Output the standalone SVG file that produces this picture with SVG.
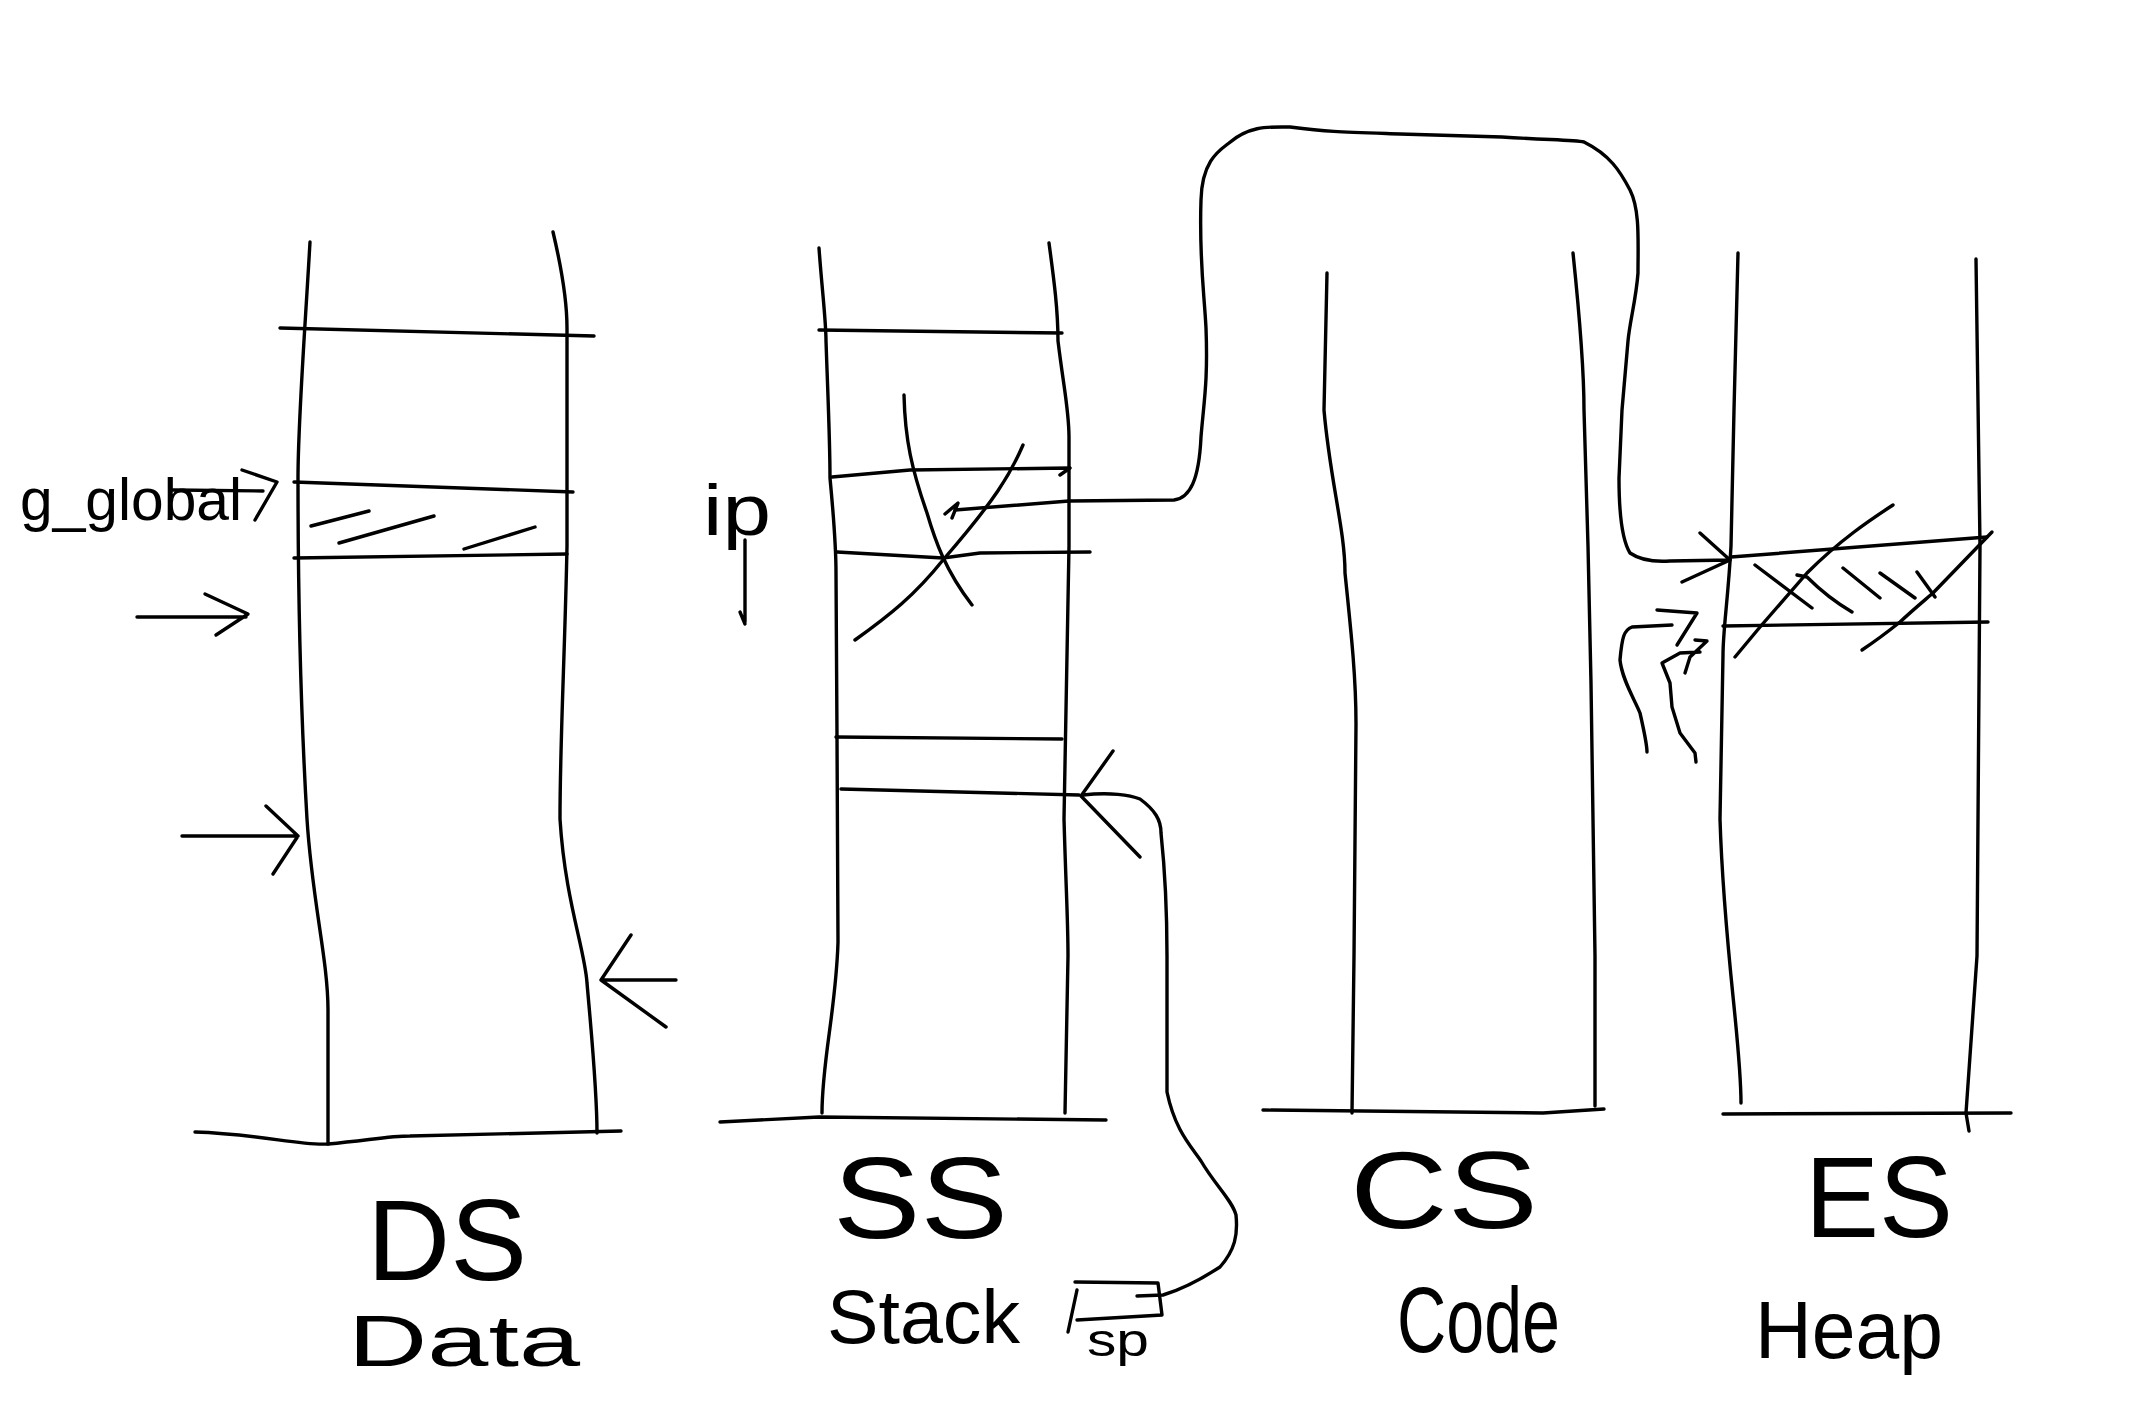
<svg xmlns="http://www.w3.org/2000/svg" width="2141" height="1402" viewBox="0 0 2141 1402">
<style>
.s{fill:none;stroke:#000;stroke-width:3.4;stroke-linecap:round;stroke-linejoin:round}
.t{font-family:"Liberation Sans","DejaVu Sans",sans-serif;fill:#000}
</style>
<rect width="2141" height="1402" fill="#fff"/>
<g id="ds">
<path class="s" d="M310,242 C305,330 298,420 298,478 C298,600 300,700 307,819 C312,900 328,960 328,1010 L328,1144"/>
<path class="s" d="M553,232 C562,270 567,300 567,328 L567,546 C565,650 560,740 560,819 C565,900 585,950 587,983 C592,1040 597,1090 597,1133"/>
<path class="s" d="M195,1132 C260,1134 300,1146 328,1144 C370,1140 390,1136 410,1136 L621,1131"/>
<path class="s" d="M280,328 L594,336"/>
<path class="s" d="M294,482 L573,492"/>
<path class="s" d="M294,558 L567,554"/>
<path class="s" d="M311,526 L369,511 M339,543 L434,516 M464,549 L535,527"/>
<text class="t" x="20" y="520" font-size="60" textLength="222" lengthAdjust="spacingAndGlyphs">g_global</text>
<text class="t" x="367" y="1280" font-size="115" textLength="160" lengthAdjust="spacingAndGlyphs">DS</text>
<text class="t" x="348" y="1366" font-size="72" textLength="232" lengthAdjust="spacingAndGlyphs">Data</text>
</g>
<g id="ss">
<path class="s" d="M819,248 C822,290 826,320 826,341 C828,400 830,440 830,478 C834,520 836,550 836,573 L837,737 L838,942 C836,1010 822,1060 822,1113"/>
<path class="s" d="M1049,243 C1054,280 1058,310 1058,341 C1064,390 1069,410 1069,437 L1069,546 L1064,819 C1066,890 1068,920 1068,956 L1065,1113"/>
<path class="s" d="M720,1122 L819,1117 L1106,1120"/>
<path class="s" d="M819,330 L1062,333"/>
<path class="s" d="M832,477 L910,470 L1070,468 M1060,475 L1070,468"/>
<path class="s" d="M837,552 L943,558 L980,553 L1090,552"/>
<path class="s" d="M836,737 L1062,739"/>
<path class="s" d="M841,789 L1079,795"/>
<path class="s" d="M904,395 C905,440 912,470 927,513 C935,540 945,570 972,605"/>
<path class="s" d="M1023,445 C1010,475 995,500 943,560 C915,595 890,615 855,640"/>
<text class="t" x="703" y="535" font-size="72" textLength="68" lengthAdjust="spacingAndGlyphs">ip</text>
<path class="s" d="M745,540 L745,622 M740,612 L745,624"/>
<text class="t" x="833" y="1238" font-size="115" textLength="175" lengthAdjust="spacingAndGlyphs">SS</text>
<text class="t" x="827" y="1343" font-size="76" textLength="193" lengthAdjust="spacingAndGlyphs">Stack</text>
<path class="s" d="M1075,1282 L1158,1283 L1162,1315 L1077,1320 M1077,1290 L1068,1332"/>
<text class="t" x="1087" y="1356" font-size="46" textLength="62" lengthAdjust="spacingAndGlyphs">sp</text>
</g>
<g id="cs">
<path class="s" d="M1327,273 L1324,410 C1330,480 1345,530 1345,573 C1352,640 1356,680 1356,724 L1354,956 L1352,1113"/>
<path class="s" d="M1573,253 C1580,320 1584,370 1584,410 L1588,546 L1591,683 L1595,956 L1595,1106"/>
<path class="s" d="M1263,1110 L1543,1113 L1604,1109"/>
<text class="t" x="1350" y="1228" font-size="110" textLength="188" lengthAdjust="spacingAndGlyphs">CS</text>
<text class="t" x="1397" y="1352" font-size="92" textLength="163" lengthAdjust="spacingAndGlyphs">Code</text>
</g>
<g id="es">
<path class="s" d="M1738,253 L1734,410 L1731,546 C1728,600 1723,630 1723,655 L1720,819 C1724,950 1741,1040 1741,1103"/>
<path class="s" d="M1976,259 L1980,546 L1977,956 L1966,1113 L1969,1131"/>
<path class="s" d="M1723,1114 L2011,1113"/>
<path class="s" d="M1731,557 L1987,537"/>
<path class="s" d="M1723,626 L1988,622"/>
<path class="s" d="M1735,657 C1745,645 1760,627 1760,627 L1807,573 C1840,540 1870,520 1893,505"/>
<path class="s" d="M1862,650 C1880,638 1900,622 1900,622 C1915,608 1925,600 1933,593 L1992,532"/>
<path class="s" d="M1755,565 L1812,608 M1797,575 L1807,577 C1820,590 1835,602 1852,612 M1843,568 L1880,598 M1880,573 L1915,598 M1917,572 L1935,597"/>
<text class="t" x="1805" y="1237" font-size="115" textLength="148" lengthAdjust="spacingAndGlyphs">ES</text>
<text class="t" x="1755" y="1358" font-size="82" textLength="188" lengthAdjust="spacingAndGlyphs">Heap</text>
</g>
<g id="connectors">
<path class="s" d="M173,490 L263,491 M242,470 L277,482 L255,520"/>
<path class="s" d="M137,617 L246,617 M205,594 L248,614 L216,635"/>
<path class="s" d="M182,836 L298,836 M266,806 L298,836 L273,874"/>
<path class="s" d="M676,980 L601,980 M631,935 L601,980 L666,1027"/>
<path class="s" d="M955,510 L1069,501 L1174,500 C1190,498 1199,480 1201,437 C1204,400 1208,382 1206,328 C1204,290 1199,259 1201,200 C1202,160 1220,150 1229,143 C1250,125 1270,127 1290,127 C1330,132 1340,132 1400,134 L1502,137 C1550,140 1575,140 1584,142 C1610,155 1620,171 1630,190 C1640,210 1638,240 1638,273 C1636,300 1630,320 1628,341 L1622,410 L1619,478 C1619,510 1622,540 1630,553 C1640,560 1655,562 1670,561 L1730,560 M1700,533 L1730,560 L1682,582"/>
<path class="s" d="M945,514 L958,503 L952,518"/>
<path class="s" d="M1113,751 L1081,796 L1140,857 M1083,795 C1110,792 1130,795 1140,799 C1155,810 1161,820 1161,833 C1166,880 1167,920 1167,956 L1167,1092 C1175,1130 1190,1145 1201,1161 C1215,1185 1232,1200 1236,1215 C1238,1235 1235,1250 1220,1267 C1200,1280 1180,1290 1163,1295 L1137,1296"/>
<path class="s" d="M1657,610 L1697,613 L1677,645 M1672,625 L1632,627 C1624,630 1622,637 1620,660 C1622,680 1635,700 1640,713 C1645,735 1647,745 1647,752"/>
<path class="s" d="M1695,640 L1707,641 L1690,657 L1685,673 M1700,652 L1680,653 L1662,663 L1670,683 L1672,707 L1680,733 L1695,753 L1696,762"/>
</g>
</svg>
